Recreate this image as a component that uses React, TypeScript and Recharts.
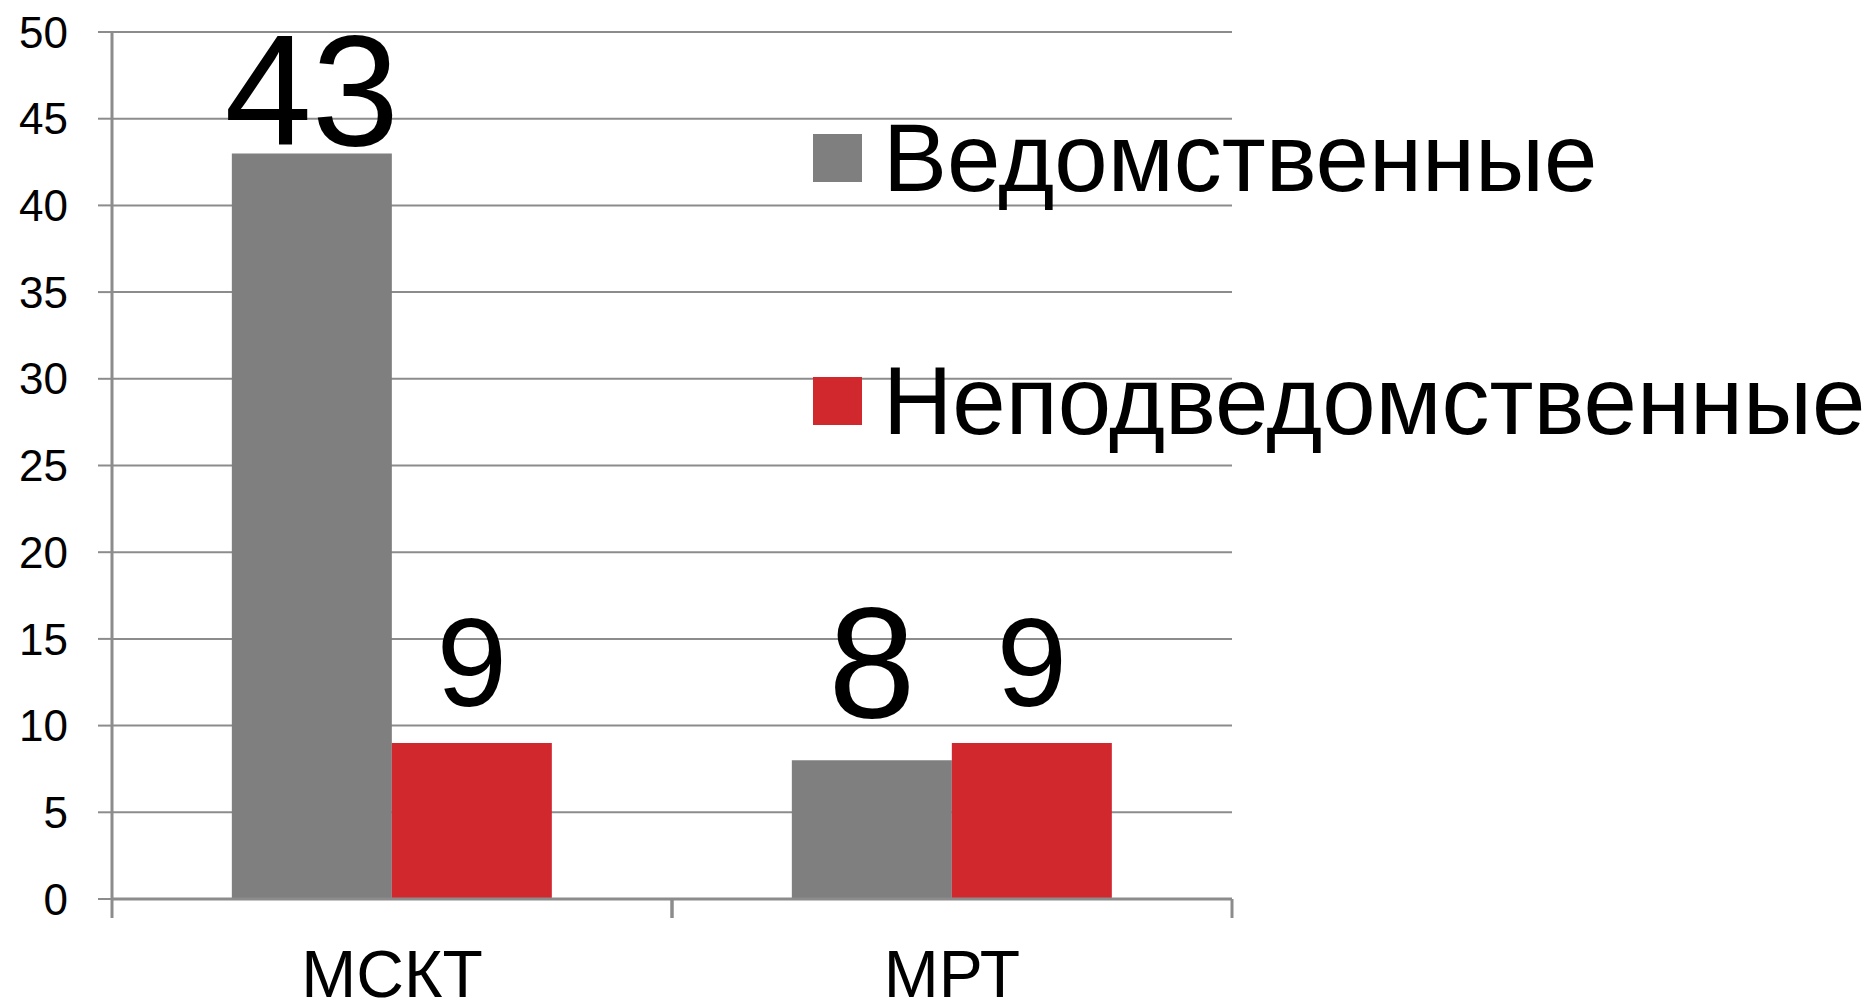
import React from 'react';
import {
  BarChart,
  Bar,
  XAxis,
  YAxis,
  CartesianGrid,
  Legend,
  LabelList,
} from 'recharts';

const categories = ['МСКТ', 'МРТ'];
const vedomstvennye = [43, 8];
const nepodvedomstvennye = [9, 9];
const seriesNames = ['Ведомственные', 'Неподведомственные'];
const yTicks = [0, 5, 10, 15, 20, 25, 30, 35, 40, 45, 50];

const data = categories.map((name, i) => ({
  name,
  ved: vedomstvennye[i],
  nepod: nepodvedomstvennye[i],
}));

const FONT = '"Liberation Sans", Arial, sans-serif';
const GRAY = '#7f7f7f';
const RED = '#d1282e';
const GRID = '#8c8c8c';

// label look per series (Excel had them placed by hand)
const LABEL_STYLE: Record<string, { fontSize: number; offsets: number[] }> = {
  ved: { fontSize: 157, offsets: [8, 43] },
  nepod: { fontSize: 127, offsets: [37, 37] },
};

const makeLabel = (key: string) => (props: any) => {
  const { x, y, width, value, index } = props;
  const st = LABEL_STYLE[key];
  return (
    <text
      x={Number(x) + Number(width) / 2}
      y={Number(y) - st.offsets[index]}
      textAnchor="middle"
      fontSize={st.fontSize}
      fontFamily={FONT}
      fill="#000"
    >
      {value}
    </text>
  );
};

const CategoryTick = (props: any) => {
  const { x, y, payload, width, visibleTicksCount } = props;
  const half = payload.offset ?? width / visibleTicksCount / 2;
  return (
    <g>
      <line x1={x - half} x2={x - half} y1={y} y2={y + 19} stroke={GRID} strokeWidth={3} />
      <line x1={x + half} x2={x + half} y1={y} y2={y + 19} stroke={GRID} strokeWidth={3} />
      <text x={x} y={y + 98} textAnchor="middle" fontSize={66} fontFamily={FONT} fill="#000">
        {payload.value}
      </text>
    </g>
  );
};

const renderLegend = () => {
  const colors = [GRAY, RED];
  return (
    <div style={{ fontFamily: FONT }}>
      {seriesNames.map((s, i) => (
        <div
          key={s}
          style={{
            display: 'flex',
            alignItems: 'center',
            height: 116,
            marginTop: i === 0 ? 0 : 127,
            whiteSpace: 'nowrap',
          }}
        >
          <div style={{ width: 49, height: 48, background: colors[i], marginRight: 21 }} />
          <span style={{ fontSize: 96, lineHeight: 1, color: '#000' }}>{s}</span>
        </div>
      ))}
    </div>
  );
};

export default function App() {
  return (
    <div style={{ width: 1872, height: 1001, background: '#fff' }}>
      <style>{'body{margin:0;}'}</style>
      <BarChart
        width={1872}
        height={1001}
        data={data}
        margin={{ top: 32, right: 640, left: 0, bottom: 0 }}
        barCategoryGap="21.4%"
        barGap={0}
      >
        <CartesianGrid vertical={false} stroke={GRID} strokeWidth={2} />
        <XAxis
          dataKey="name"
          height={102}
          axisLine={{ stroke: GRID, strokeWidth: 3 }}
          tickLine={false}
          tickSize={0}
          tickMargin={0}
          tick={<CategoryTick />}
          interval={0}
        />
        <YAxis
          width={112}
          domain={[0, 50]}
          ticks={yTicks}
          interval={0}
          axisLine={{ stroke: GRID, strokeWidth: 3 }}
          tickLine={{ stroke: GRID, strokeWidth: 2 }}
          tickSize={14}
          tickMargin={30}
          tick={{ fill: '#000', fontSize: 44, fontFamily: FONT }}
        />
        <Legend
          layout="vertical"
          align="center"
          verticalAlign="middle"
          content={renderLegend}
          wrapperStyle={{ left: 813, top: 100, width: 1059, height: 400 }}
        />
        <Bar dataKey="ved" name={seriesNames[0]} fill={GRAY} isAnimationActive={false}>
          <LabelList dataKey="ved" content={makeLabel('ved')} />
        </Bar>
        <Bar dataKey="nepod" name={seriesNames[1]} fill={RED} isAnimationActive={false}>
          <LabelList dataKey="nepod" content={makeLabel('nepod')} />
        </Bar>
      </BarChart>
    </div>
  );
}
